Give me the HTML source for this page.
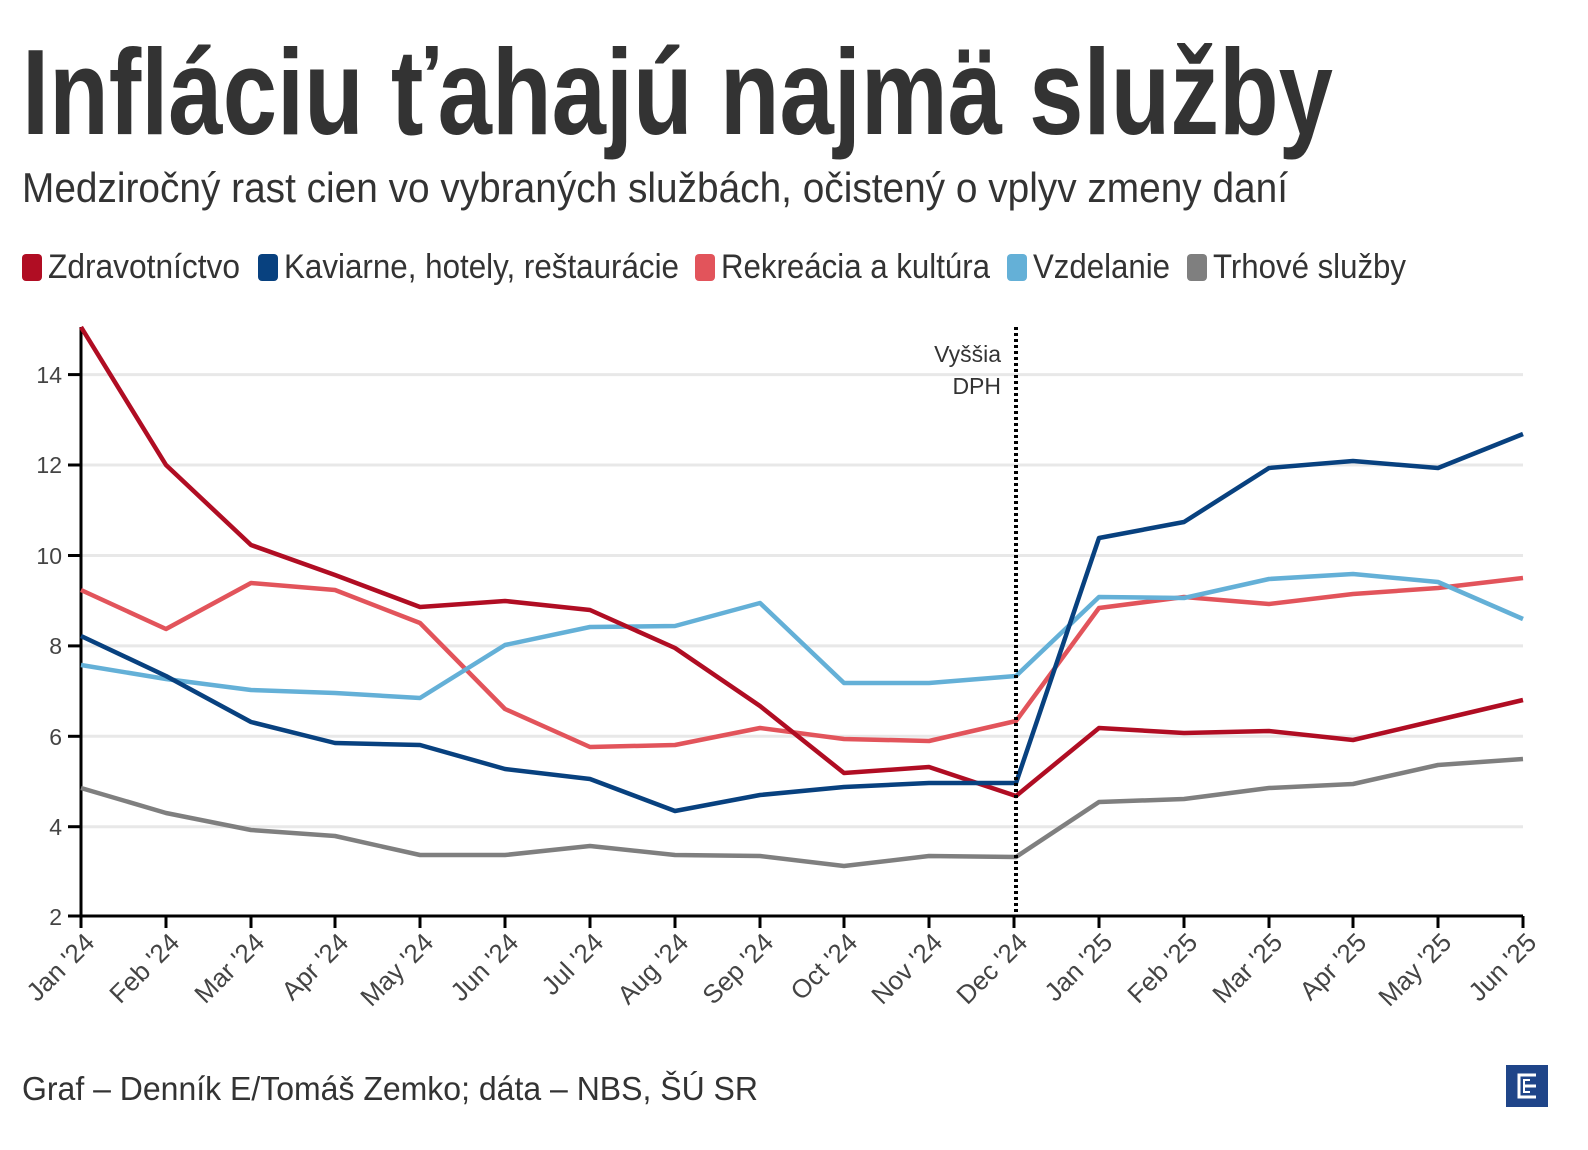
<!DOCTYPE html>
<html><head><meta charset="utf-8"><style>
html,body{margin:0;padding:0;background:#fff;width:1588px;height:1150px;overflow:hidden;}
svg{display:block;font-family:"Liberation Sans Narrow","Liberation Sans",sans-serif;}
</style></head><body>
<svg width="1588" height="1150" viewBox="0 0 1588 1150" xmlns="http://www.w3.org/2000/svg">
<text x="22" y="134" font-size="122" font-weight="bold" fill="#333" textLength="1311" lengthAdjust="spacingAndGlyphs">Infláciu ťahajú najmä služby</text>
<text x="22" y="202" font-size="42" fill="#333" textLength="1266" lengthAdjust="spacingAndGlyphs">Medziročný rast cien vo vybraných službách, očistený o vplyv zmeny daní</text>
<g font-size="34" fill="#333">
<rect x="22" y="254" width="20" height="27" rx="4" fill="#b00d23"/><text x="48" y="278" textLength="192" lengthAdjust="spacingAndGlyphs">Zdravotníctvo</text>
<rect x="258" y="254" width="20" height="27" rx="4" fill="#08417f"/><text x="284" y="278" textLength="395" lengthAdjust="spacingAndGlyphs">Kaviarne, hotely, reštaurácie</text>
<rect x="695" y="254" width="20" height="27" rx="4" fill="#e2545b"/><text x="721" y="278" textLength="269" lengthAdjust="spacingAndGlyphs">Rekreácia a kultúra</text>
<rect x="1007" y="254" width="20" height="27" rx="4" fill="#64b0d7"/><text x="1033" y="278" textLength="137" lengthAdjust="spacingAndGlyphs">Vzdelanie</text>
<rect x="1187" y="254" width="20" height="27" rx="4" fill="#7f7f7f"/><text x="1213" y="278" textLength="193" lengthAdjust="spacingAndGlyphs">Trhové služby</text>
</g>
<g stroke="#e8e8e8" stroke-width="3">
<line x1="81" x2="1523" y1="826.7" y2="826.7"/><line x1="81" x2="1523" y1="736.3" y2="736.3"/><line x1="81" x2="1523" y1="645.9" y2="645.9"/><line x1="81" x2="1523" y1="555.5" y2="555.5"/><line x1="81" x2="1523" y1="465" y2="465"/><line x1="81" x2="1523" y1="374.6" y2="374.6"/>
</g>
<g font-size="23" fill="#444" text-anchor="end">
<text x="62" y="925">2</text><text x="62" y="835">4</text><text x="62" y="745">6</text><text x="62" y="654">8</text><text x="62" y="564">10</text><text x="62" y="473">12</text><text x="62" y="383">14</text>
</g>
<g stroke="#000" stroke-width="3">
<line x1="81" y1="327" x2="81" y2="928"/><line x1="68" y1="916" x2="1523" y2="916"/>
<line x1="68" y1="826.7" x2="81" y2="826.7"/><line x1="68" y1="736.3" x2="81" y2="736.3"/><line x1="68" y1="645.9" x2="81" y2="645.9"/><line x1="68" y1="555.5" x2="81" y2="555.5"/><line x1="68" y1="465" x2="81" y2="465"/><line x1="68" y1="374.6" x2="81" y2="374.6"/>
<line x1="166" y1="916" x2="166" y2="928"/><line x1="251" y1="916" x2="251" y2="928"/><line x1="335" y1="916" x2="335" y2="928"/><line x1="420" y1="916" x2="420" y2="928"/><line x1="505" y1="916" x2="505" y2="928"/><line x1="590" y1="916" x2="590" y2="928"/><line x1="675" y1="916" x2="675" y2="928"/><line x1="760" y1="916" x2="760" y2="928"/><line x1="844" y1="916" x2="844" y2="928"/><line x1="929" y1="916" x2="929" y2="928"/><line x1="1014" y1="916" x2="1014" y2="928"/><line x1="1099" y1="916" x2="1099" y2="928"/><line x1="1184" y1="916" x2="1184" y2="928"/><line x1="1269" y1="916" x2="1269" y2="928"/><line x1="1353" y1="916" x2="1353" y2="928"/><line x1="1438" y1="916" x2="1438" y2="928"/><line x1="1523" y1="916" x2="1523" y2="928"/>
</g>
<g font-size="26" fill="#444" text-anchor="end">
<text transform="translate(96,944) rotate(-45)">Jan '24</text>
<text transform="translate(181,944) rotate(-45)">Feb '24</text>
<text transform="translate(266,944) rotate(-45)">Mar '24</text>
<text transform="translate(350,944) rotate(-45)">Apr '24</text>
<text transform="translate(435,944) rotate(-45)">May '24</text>
<text transform="translate(520,944) rotate(-45)">Jun '24</text>
<text transform="translate(605,944) rotate(-45)">Jul '24</text>
<text transform="translate(690,944) rotate(-45)">Aug '24</text>
<text transform="translate(775,944) rotate(-45)">Sep '24</text>
<text transform="translate(859,944) rotate(-45)">Oct '24</text>
<text transform="translate(944,944) rotate(-45)">Nov '24</text>
<text transform="translate(1029,944) rotate(-45)">Dec '24</text>
<text transform="translate(1114,944) rotate(-45)">Jan '25</text>
<text transform="translate(1199,944) rotate(-45)">Feb '25</text>
<text transform="translate(1284,944) rotate(-45)">Mar '25</text>
<text transform="translate(1368,944) rotate(-45)">Apr '25</text>
<text transform="translate(1453,944) rotate(-45)">May '25</text>
<text transform="translate(1538,944) rotate(-45)">Jun '25</text>
</g>
<g fill="none" stroke-width="4.5" stroke-linejoin="round">
<polyline stroke="#7f7f7f" points="81,788 166,813 251,830 335,836 420,855 505,855 590,846 675,855 760,856 844,866 929,856 1016,857 1099,802 1184,799 1269,788 1353,784 1438,765 1523,759"/>
<polyline stroke="#e2545b" points="81,590 166,629 251,583 335,590 420,623 505,709 590,747 675,745 760,728 844,739 929,741 1016,721 1099,608 1184,597 1269,604 1353,594 1438,588 1523,578"/>
<polyline stroke="#64b0d7" points="81,665 166,679 251,690 335,693 420,698 505,645 590,627 675,626 760,603 844,683 929,683 1016,676 1099,597 1184,598 1269,579 1353,574 1438,582 1523,619"/>
<polyline stroke="#b00d23" points="81,327 166,465 251,545 335,575 420,607 505,601 590,610 675,648 760,706 844,773 929,767 1016,796 1099,728 1184,733 1269,731 1353,740 1438,720 1523,700"/>
<polyline stroke="#08417f" points="81,636 166,676 251,722 335,743 420,745 505,769 590,779 675,811 760,795 844,787 929,783 1016,783 1099,538 1184,522 1269,468 1353,461 1438,468 1523,434"/>
</g>
<line x1="1016" y1="327" x2="1016" y2="916" stroke="#000" stroke-width="4" stroke-dasharray="3,3"/>
<g font-size="23" fill="#333" text-anchor="end"><text x="1001" y="362">Vyššia</text><text x="1001" y="394">DPH</text></g>
<text x="22" y="1100" font-size="33" fill="#333" textLength="736" lengthAdjust="spacingAndGlyphs">Graf – Denník E/Tomáš Zemko; dáta – NBS, ŠÚ SR</text>
<rect x="1506" y="1065" width="42" height="42" fill="#1f4589"/>
<path d="M1536,1075 H1519 V1097 H1536 M1524,1086 H1536" fill="none" stroke="#fff" stroke-width="3"/>
<path d="M1530,1080 H1524 V1092 H1530" fill="none" stroke="#fff" stroke-width="2"/>
</svg>
</body></html>
